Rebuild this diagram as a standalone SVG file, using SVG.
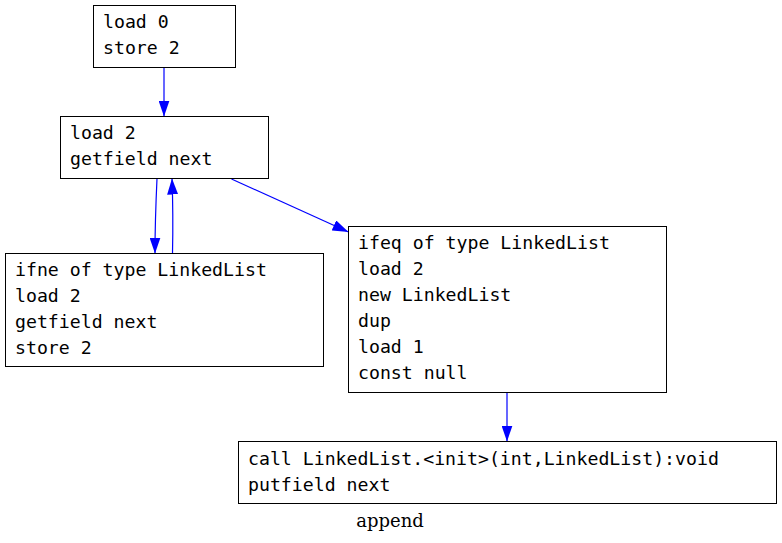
<svg xmlns="http://www.w3.org/2000/svg" width="782" height="543" viewBox="0 0 782 543">
<style>
.box{fill:#fff;stroke:#000;stroke-width:1}
.t{font-family:"DejaVu Sans Mono",monospace;font-size:18.2px;fill:#000}
.edge{fill:none;stroke:#0000ff;stroke-width:1.2}
.lbl{font-family:"DejaVu Serif",serif;font-size:18px;fill:#000}
</style>
<defs>
<marker id="ah" viewBox="0 0 16 11" refX="16" refY="5.5" markerWidth="16" markerHeight="11" markerUnits="userSpaceOnUse" orient="auto">
<path d="M0,0 L16,5.5 L0,11 z" fill="#0000ff"/>
</marker>
</defs>
<rect width="782" height="543" fill="#fff"/>
<g id="connectors">
<path class="edge" d="M164,67.5 L164,116.5" marker-end="url(#ah)"/>
<path class="edge" d="M157,178.5 C156,200 155,230 155,253.5" marker-end="url(#ah)"/>
<path class="edge" d="M172.5,253.5 C173,230 173,205 172,178.5" marker-end="url(#ah)"/>
<path class="edge" d="M231.5,179 L348.5,232" marker-end="url(#ah)"/>
<path class="edge" d="M507,392.5 L507,441.5" marker-end="url(#ah)"/>
</g>
<g id="n0">
<rect class="box" x="93.5" y="5.5" width="142" height="62"/>
<text class="t" x="103" y="28">load 0</text>
<text class="t" x="103" y="54">store 2</text>
</g>
<g id="n1">
<rect class="box" x="60.5" y="116.5" width="208" height="62"/>
<text class="t" x="70" y="139">load 2</text>
<text class="t" x="70" y="165">getfield next</text>
</g>
<g id="n2">
<rect class="box" x="5.5" y="253.5" width="318" height="113"/>
<text class="t" x="15" y="276">ifne of type LinkedList</text>
<text class="t" x="15" y="302">load 2</text>
<text class="t" x="15" y="328">getfield next</text>
<text class="t" x="15" y="354">store 2</text>
</g>
<g id="n3">
<rect class="box" x="348.5" y="226.5" width="318" height="166"/>
<text class="t" x="358" y="249">ifeq of type LinkedList</text>
<text class="t" x="358" y="275">load 2</text>
<text class="t" x="358" y="301">new LinkedList</text>
<text class="t" x="358" y="327">dup</text>
<text class="t" x="358" y="353">load 1</text>
<text class="t" x="358" y="379">const null</text>
</g>
<g id="n4">
<rect class="box" x="238.5" y="441.5" width="538" height="62"/>
<text class="t" x="248" y="465">call LinkedList.&lt;init&gt;(int,LinkedList):void</text>
<text class="t" x="248" y="491">putfield next</text>
</g>
<text class="lbl" x="390" y="527" text-anchor="middle">append</text>
</svg>
